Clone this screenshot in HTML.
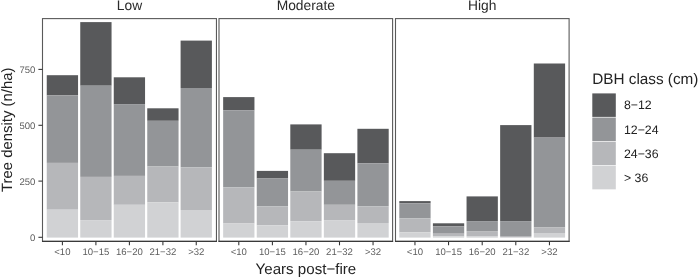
<!DOCTYPE html>
<html><head><meta charset="utf-8"><title>Tree density</title>
<style>html,body{margin:0;padding:0;background:#fff}svg{display:block}text{font-family:"Liberation Sans",sans-serif;text-rendering:geometricPrecision}</style></head>
<body>
<svg width="698" height="277" viewBox="0 0 698 277">
<rect width="698" height="277" fill="#fff"/>
<rect x="46.75" y="75.20" width="31.30" height="20.10" fill="#58595b"/>
<rect x="46.75" y="95.30" width="31.30" height="67.60" fill="#939598"/>
<rect x="46.75" y="162.90" width="31.30" height="46.80" fill="#b6b7ba"/>
<rect x="46.75" y="209.70" width="31.30" height="27.90" fill="#d1d2d4"/>
<line x1="62.40" x2="62.40" y1="241.40" y2="245.30" stroke="#333" stroke-width="1.07"/>
<text x="62.40" y="254.9" font-size="9.55" fill="#5c5c5c" text-anchor="middle">&lt;10</text>
<rect x="80.25" y="22.10" width="31.30" height="63.60" fill="#58595b"/>
<rect x="80.25" y="85.70" width="31.30" height="91.20" fill="#939598"/>
<rect x="80.25" y="176.90" width="31.30" height="43.20" fill="#b6b7ba"/>
<rect x="80.25" y="220.10" width="31.30" height="17.50" fill="#d1d2d4"/>
<line x1="95.90" x2="95.90" y1="241.40" y2="245.30" stroke="#333" stroke-width="1.07"/>
<text x="95.90" y="254.9" font-size="9.55" fill="#5c5c5c" text-anchor="middle">10−15</text>
<rect x="113.75" y="77.30" width="31.30" height="26.80" fill="#58595b"/>
<rect x="113.75" y="104.10" width="31.30" height="71.80" fill="#939598"/>
<rect x="113.75" y="175.90" width="31.30" height="28.90" fill="#b6b7ba"/>
<rect x="113.75" y="204.80" width="31.30" height="32.80" fill="#d1d2d4"/>
<line x1="129.40" x2="129.40" y1="241.40" y2="245.30" stroke="#333" stroke-width="1.07"/>
<text x="129.40" y="254.9" font-size="9.55" fill="#5c5c5c" text-anchor="middle">16−20</text>
<rect x="147.25" y="108.30" width="31.30" height="12.50" fill="#58595b"/>
<rect x="147.25" y="120.80" width="31.30" height="45.70" fill="#939598"/>
<rect x="147.25" y="166.50" width="31.30" height="35.90" fill="#b6b7ba"/>
<rect x="147.25" y="202.40" width="31.30" height="35.20" fill="#d1d2d4"/>
<line x1="162.90" x2="162.90" y1="241.40" y2="245.30" stroke="#333" stroke-width="1.07"/>
<text x="162.90" y="254.9" font-size="9.55" fill="#5c5c5c" text-anchor="middle">21−32</text>
<rect x="180.60" y="40.60" width="31.30" height="47.40" fill="#58595b"/>
<rect x="180.60" y="88.00" width="31.30" height="79.30" fill="#939598"/>
<rect x="180.60" y="167.30" width="31.30" height="42.70" fill="#b6b7ba"/>
<rect x="180.60" y="210.00" width="31.30" height="27.60" fill="#d1d2d4"/>
<line x1="196.25" x2="196.25" y1="241.40" y2="245.30" stroke="#333" stroke-width="1.07"/>
<text x="196.25" y="254.9" font-size="9.55" fill="#5c5c5c" text-anchor="middle">&gt;32</text>
<rect x="42.50" y="18.6" width="173.95" height="222.80" fill="none" stroke="#5a5a5a" stroke-width="1.1"/>
<line x1="42.00" x2="216.95" y1="241.4" y2="241.4" stroke="#3a3a3a" stroke-width="1.15"/>
<text x="129.47" y="10.3" font-size="13.8" fill="#2a2a2a" text-anchor="middle">Low</text>
<rect x="223.15" y="97.10" width="31.30" height="13.30" fill="#58595b"/>
<rect x="223.15" y="110.40" width="31.30" height="76.90" fill="#939598"/>
<rect x="223.15" y="187.30" width="31.30" height="36.20" fill="#b6b7ba"/>
<rect x="223.15" y="223.50" width="31.30" height="14.10" fill="#d1d2d4"/>
<line x1="238.80" x2="238.80" y1="241.40" y2="245.30" stroke="#333" stroke-width="1.07"/>
<text x="238.80" y="254.9" font-size="9.55" fill="#5c5c5c" text-anchor="middle">&lt;10</text>
<rect x="256.75" y="170.90" width="31.30" height="7.60" fill="#58595b"/>
<rect x="256.75" y="178.50" width="31.30" height="27.80" fill="#939598"/>
<rect x="256.75" y="206.30" width="31.30" height="19.00" fill="#b6b7ba"/>
<rect x="256.75" y="225.30" width="31.30" height="12.30" fill="#d1d2d4"/>
<line x1="272.40" x2="272.40" y1="241.40" y2="245.30" stroke="#333" stroke-width="1.07"/>
<text x="272.40" y="254.9" font-size="9.55" fill="#5c5c5c" text-anchor="middle">10−15</text>
<rect x="290.30" y="124.40" width="31.30" height="25.30" fill="#58595b"/>
<rect x="290.30" y="149.70" width="31.30" height="41.80" fill="#939598"/>
<rect x="290.30" y="191.50" width="31.30" height="29.70" fill="#b6b7ba"/>
<rect x="290.30" y="221.20" width="31.30" height="16.40" fill="#d1d2d4"/>
<line x1="305.95" x2="305.95" y1="241.40" y2="245.30" stroke="#333" stroke-width="1.07"/>
<text x="305.95" y="254.9" font-size="9.55" fill="#5c5c5c" text-anchor="middle">16−20</text>
<rect x="323.85" y="153.20" width="31.30" height="27.60" fill="#58595b"/>
<rect x="323.85" y="180.80" width="31.30" height="24.00" fill="#939598"/>
<rect x="323.85" y="204.80" width="31.30" height="15.30" fill="#b6b7ba"/>
<rect x="323.85" y="220.10" width="31.30" height="17.50" fill="#d1d2d4"/>
<line x1="339.50" x2="339.50" y1="241.40" y2="245.30" stroke="#333" stroke-width="1.07"/>
<text x="339.50" y="254.9" font-size="9.55" fill="#5c5c5c" text-anchor="middle">21−32</text>
<rect x="357.40" y="128.80" width="31.30" height="34.60" fill="#58595b"/>
<rect x="357.40" y="163.40" width="31.30" height="42.90" fill="#939598"/>
<rect x="357.40" y="206.30" width="31.30" height="16.70" fill="#b6b7ba"/>
<rect x="357.40" y="223.00" width="31.30" height="14.60" fill="#d1d2d4"/>
<line x1="373.05" x2="373.05" y1="241.40" y2="245.30" stroke="#333" stroke-width="1.07"/>
<text x="373.05" y="254.9" font-size="9.55" fill="#5c5c5c" text-anchor="middle">&gt;32</text>
<rect x="219.00" y="18.6" width="173.60000000000002" height="222.80" fill="none" stroke="#5a5a5a" stroke-width="1.1"/>
<line x1="218.50" x2="393.10" y1="241.4" y2="241.4" stroke="#3a3a3a" stroke-width="1.15"/>
<text x="305.80" y="10.3" font-size="13.8" fill="#2a2a2a" text-anchor="middle">Moderate</text>
<rect x="399.30" y="201.10" width="31.30" height="2.30" fill="#58595b"/>
<rect x="399.30" y="203.40" width="31.30" height="14.90" fill="#939598"/>
<rect x="399.30" y="218.30" width="31.30" height="14.10" fill="#b6b7ba"/>
<rect x="399.30" y="232.40" width="31.30" height="5.20" fill="#d1d2d4"/>
<line x1="414.95" x2="414.95" y1="241.40" y2="245.30" stroke="#333" stroke-width="1.07"/>
<text x="414.95" y="254.9" font-size="9.55" fill="#5c5c5c" text-anchor="middle">&lt;10</text>
<rect x="432.90" y="223.30" width="31.30" height="3.00" fill="#58595b"/>
<rect x="432.90" y="226.30" width="31.30" height="7.40" fill="#939598"/>
<rect x="432.90" y="233.70" width="31.30" height="2.70" fill="#b6b7ba"/>
<rect x="432.90" y="236.40" width="31.30" height="1.20" fill="#d1d2d4"/>
<line x1="448.55" x2="448.55" y1="241.40" y2="245.30" stroke="#333" stroke-width="1.07"/>
<text x="448.55" y="254.9" font-size="9.55" fill="#5c5c5c" text-anchor="middle">10−15</text>
<rect x="466.55" y="196.40" width="31.30" height="24.70" fill="#58595b"/>
<rect x="466.55" y="221.10" width="31.30" height="10.00" fill="#939598"/>
<rect x="466.55" y="231.10" width="31.30" height="5.00" fill="#b6b7ba"/>
<rect x="466.55" y="236.10" width="31.30" height="1.50" fill="#d1d2d4"/>
<line x1="482.20" x2="482.20" y1="241.40" y2="245.30" stroke="#333" stroke-width="1.07"/>
<text x="482.20" y="254.9" font-size="9.55" fill="#5c5c5c" text-anchor="middle">16−20</text>
<rect x="500.15" y="125.10" width="31.30" height="96.00" fill="#58595b"/>
<rect x="500.15" y="221.10" width="31.30" height="14.90" fill="#939598"/>
<rect x="500.15" y="236.00" width="31.30" height="1.40" fill="#b6b7ba"/>
<rect x="500.15" y="237.40" width="31.30" height="0.20" fill="#d1d2d4"/>
<line x1="515.80" x2="515.80" y1="241.40" y2="245.30" stroke="#333" stroke-width="1.07"/>
<text x="515.80" y="254.9" font-size="9.55" fill="#5c5c5c" text-anchor="middle">21−32</text>
<rect x="533.80" y="63.50" width="31.30" height="74.10" fill="#58595b"/>
<rect x="533.80" y="137.60" width="31.30" height="89.60" fill="#939598"/>
<rect x="533.80" y="227.20" width="31.30" height="5.80" fill="#b6b7ba"/>
<rect x="533.80" y="233.00" width="31.30" height="4.60" fill="#d1d2d4"/>
<line x1="549.45" x2="549.45" y1="241.40" y2="245.30" stroke="#333" stroke-width="1.07"/>
<text x="549.45" y="254.9" font-size="9.55" fill="#5c5c5c" text-anchor="middle">&gt;32</text>
<rect x="395.50" y="18.6" width="173.60000000000002" height="222.80" fill="none" stroke="#5a5a5a" stroke-width="1.1"/>
<line x1="395.00" x2="569.60" y1="241.4" y2="241.4" stroke="#3a3a3a" stroke-width="1.15"/>
<text x="482.30" y="10.3" font-size="13.8" fill="#2a2a2a" text-anchor="middle">High</text>
<line x1="38.4" x2="42.5" y1="237.3" y2="237.3" stroke="#333" stroke-width="1.07"/>
<text x="35.4" y="240.7" font-size="9.55" fill="#5c5c5c" text-anchor="end">0</text>
<line x1="38.4" x2="42.5" y1="181.1" y2="181.1" stroke="#333" stroke-width="1.07"/>
<text x="35.4" y="184.5" font-size="9.55" fill="#5c5c5c" text-anchor="end">250</text>
<line x1="38.4" x2="42.5" y1="125.3" y2="125.3" stroke="#333" stroke-width="1.07"/>
<text x="35.4" y="128.7" font-size="9.55" fill="#5c5c5c" text-anchor="end">500</text>
<line x1="38.4" x2="42.5" y1="69.4" y2="69.4" stroke="#333" stroke-width="1.07"/>
<text x="35.4" y="72.8" font-size="9.55" fill="#5c5c5c" text-anchor="end">750</text>
<text transform="translate(11.6,129.8) rotate(-90)" font-size="14.9" fill="#222" text-anchor="middle">Tree density (n/ha)</text>
<text x="305.9" y="274.2" font-size="15.1" fill="#222" text-anchor="middle">Years post−fire</text>
<text x="592.2" y="83.7" font-size="15.3" fill="#222">DBH class (cm)</text>
<rect x="592.3" y="93.40" width="23.5" height="23.5" fill="#58595b"/>
<text x="624.0" y="109.40" font-size="12.3" fill="#222">8−12</text>
<rect x="592.3" y="117.55" width="23.5" height="23.5" fill="#939598"/>
<text x="624.0" y="133.55" font-size="12.3" fill="#222">12−24</text>
<rect x="592.3" y="141.70" width="23.5" height="23.5" fill="#b6b7ba"/>
<text x="624.0" y="157.70" font-size="12.3" fill="#222">24−36</text>
<rect x="592.3" y="165.85" width="23.5" height="23.5" fill="#d1d2d4"/>
<text x="624.0" y="181.85" font-size="12.3" fill="#222">&gt; 36</text>
</svg>
</body></html>
